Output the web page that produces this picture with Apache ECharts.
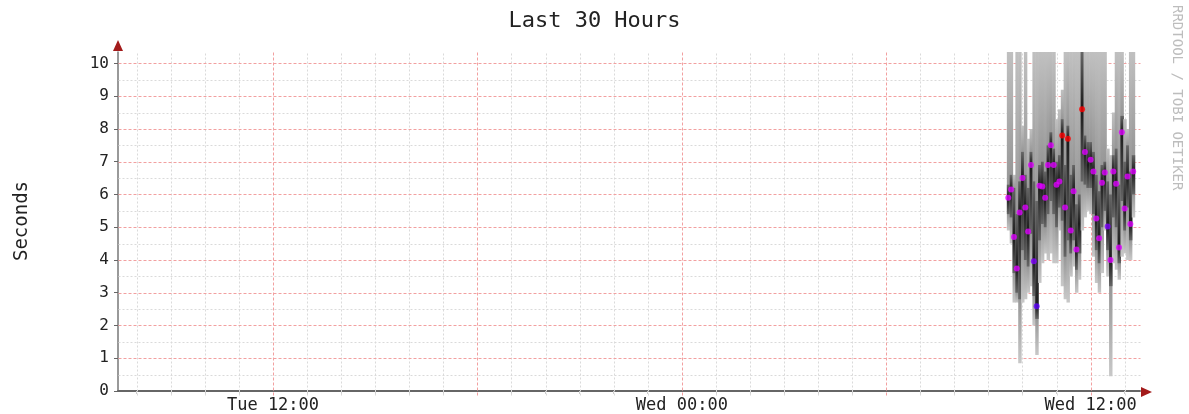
<!DOCTYPE html>
<html><head><meta charset="utf-8">
<script src="https://cdn.jsdelivr.net/npm/echarts@6/dist/echarts.min.js"></script>
<style>html,body{margin:0;padding:0;background:#fff}#c{width:1189px;height:414px}</style>
</head><body><div id="c"></div>
<script>
// ---- text ----
const titleText = 'Last 30 Hours';
const yAxisName = 'Seconds';
const sideText = 'RRDTOOL / TOBI OETIKER';
// ---- axes (x in hours counted from Tue 00:00) ----
const xMin = 7.45, xMax = 37.45;
const yMin = 0, yMax = 10.35;
const xTickHours = [12, 24, 36];
const xTickLabels = ['Tue 12:00', 'Wed 00:00', 'Wed 12:00'];
const yTicks = [0, 1, 2, 3, 4, 5, 6, 7, 8, 9, 10];
const vMinorGrid = [8,9,10,11,13,14,15,16,17,19,20,21,22,23,25,26,27,28,29,31,32,33,34,35,37];
const vMajorGrid = [12, 18, 24, 30, 36];
const hMinorGrid = [0.5,1.5,2.5,3.5,4.5,5.5,6.5,7.5,8.5,9.5];
const hMajorGrid = [1,2,3,4,5,6,7,8,9,10];
// ---- data: Wed, 5-minute steps ----
const times = ['09:35','09:40','09:45','09:50','09:55','10:00','10:05','10:10','10:15','10:20','10:25','10:30','10:35','10:40','10:45','10:50','10:55','11:00','11:05','11:10','11:15','11:20','11:25','11:30','11:35','11:40','11:45','11:50','11:55','12:00','12:05','12:10','12:15','12:20','12:25','12:30','12:35','12:40','12:45','12:50','12:55','13:00','13:05','13:10','13:15'];
const minRtt = [4.9,4.5,2.7,2.7,0.85,2.7,2.8,3.0,3.2,2.0,1.1,3.3,3.9,4.2,4.0,4.2,3.9,3.9,4.9,3.2,2.8,2.7,3.5,3.8,3.0,3.4,4.9,5.3,5.5,5.4,4.1,3.3,3.0,3.6,4.9,3.5,0.45,3.9,3.7,3.4,4.1,4.2,4.0,4.0,5.3];
const lowQ   = [5.4,5.3,3.6,3.0,2.8,4.3,4.0,3.8,4.8,2.9,2.2,4.6,5.1,5.0,5.4,5.8,5.4,5.0,5.6,5.2,4.1,4.6,4.2,4.6,3.7,4.2,6.4,6.3,6.2,6.2,5.4,4.3,3.9,5.0,5.5,4.3,3.2,5.3,5.0,3.9,5.8,4.9,5.6,4.6,6.0];
const median = [5.9,6.15,4.7,3.74,5.45,6.5,5.6,4.87,6.9,3.96,2.59,6.27,6.24,5.9,6.9,7.5,6.9,6.3,6.4,7.8,5.6,7.7,4.9,6.1,4.32,null,8.6,7.3,null,7.06,6.7,5.27,4.66,6.36,6.67,5.02,4.0,6.7,6.33,4.38,7.9,5.57,6.55,5.1,6.7];
const highQ  = [6.3,6.6,6.2,5.4,6.4,7.3,6.6,6.2,7.3,6.4,5.8,6.9,7.0,6.7,7.5,7.9,7.4,7.0,7.2,8.3,6.9,8.1,6.6,6.9,5.7,6.0,10.35,7.8,7.6,7.6,7.3,6.6,6.1,6.9,7.0,6.4,6.0,7.2,7.4,6.3,8.4,7.0,7.5,6.7,7.2];
const maxRtt = [10.35,10.35,6.6,10.35,10.35,8.1,10.35,7.7,8.0,10.35,10.35,10.35,10.35,10.35,10.35,10.35,10.35,8.3,8.6,9.2,10.35,10.35,10.35,10.35,10.35,10.35,10.35,10.35,10.35,10.35,10.35,10.35,10.35,10.35,10.35,7.4,7.2,8.5,10.35,10.35,10.35,8.3,8.0,10.35,10.35];
const lossCount = [7,7,7,7,7,7,7,7,7,5,3,7,7,7,7,7,7,7,7,11,7,11,7,7,7,7,11,7,7,7,7,7,7,7,7,5,7,7,7,7,7,7,7,7,7];
const lossThresholds = [0, 1, 2, 3, 4, 6, 10];
const lossColors = ['#26ff00', '#00b8ff', '#0059ff', '#5e00ff', '#7e00ff', '#dd00ff', '#ff0000'];

const STEP = 5 / 60;
function toHour(s) { const p = s.split(':'); return 24 + (+p[0]) + (+p[1]) / 60; }
function lossColor(n) { let c = lossColors[0]; for (let i = 0; i < lossThresholds.length; i++) if (n >= lossThresholds[i]) c = lossColors[i]; return c; }

const smokeData = times.map((t, i) => [toHour(t), minRtt[i], lowQ[i], median[i] == null ? '-' : median[i], highQ[i], maxRtt[i], lossCount[i]]);
const medianData = [];
times.forEach((t, i) => { if (median[i] != null) medianData.push({ value: [toHour(t), median[i]], itemStyle: { color: lossColor(lossCount[i]) } }); });

const minorGridData = [];
vMinorGrid.forEach(v => minorGridData.push([v, 0]));
hMinorGrid.forEach(v => minorGridData.push([v, 2]));
const majorGridData = [];
hMajorGrid.forEach(v => majorGridData.push([v, 3]));
vMajorGrid.forEach(v => majorGridData.push([v, 1]));

function clamp(v) { return Math.max(0, Math.min(1, v)); }
function grad(stops) {
  return { type: 'linear', x: 0, y: 0, x2: 0, y2: 1, colorStops: stops.map(s => ({ offset: clamp(s[0]), color: s[1] })) };
}

function makeGridRenderer(color, dash) {
  return function (params, api) {
    const v = api.value(0), kind = api.value(1);
    let p1, p2;
    if (kind < 2) { p1 = api.coord([v, yMin]); p2 = api.coord([v, yMax]); p1[1] += 4; }
    else { p1 = api.coord([xMin, v]); p2 = api.coord([xMax, v]); }
    return {
      type: 'line', shape: { x1: Math.round(p1[0]) + 0.5, y1: Math.round(p1[1]) + 0.5, x2: Math.round(p2[0]) + 0.5, y2: Math.round(p2[1]) + 0.5 },
      style: { stroke: color, lineWidth: 1, lineDash: dash }
    };
  };
}

function renderSmoke(params, api) {
  const t = api.value(0);
  const vLo = api.value(1), vQ1 = api.value(2), vMed = api.value(3), vQ3 = api.value(4), vHi = api.value(5);
  const w = api.size([STEP, 0])[0];
  const cx = api.coord([t, 0])[0];
  const x0 = cx - w / 2;
  const yLo = api.coord([t, vLo])[1], yHi = api.coord([t, vHi])[1];
  const yQ1 = api.coord([t, vQ1])[1], yQ3 = api.coord([t, vQ3])[1];
  const span = Math.max(1, yLo - yHi);
  const o3 = (yQ3 - yHi) / span, o1 = (yQ1 - yHi) / span;
  const children = [{
    type: 'rect', shape: { x: x0, y: yHi, width: w + 0.6, height: span },
    style: { fill: grad([[0, '#c0c0c0'], [o3, '#979797'], [o1, '#979797'], [1, '#c8c8c8']]) }
  }];
  const hasMed = !isNaN(vMed);
  const yMed = hasMed ? api.coord([t, vMed])[1] : (yQ1 + yQ3) / 2;
  const inner = Math.max(1, yQ1 - yQ3);
  const om = (yMed - yQ3) / inner;
  children.push({
    type: 'rect', shape: { x: x0, y: yQ3, width: w + 0.6, height: inner },
    style: { fill: grad([[0, '#666666'], [om, '#1a1a1a'], [1, '#666666']]) }
  });
  return { type: 'group', children };
}

const chart = echarts.init(document.getElementById('c'), null, { renderer: 'canvas' });
chart.setOption({
  animation: false,
  backgroundColor: '#ffffff',
  title: {
    text: titleText, left: 'center', top: 5,
    textStyle: { fontFamily: 'DejaVu Sans Mono', fontSize: 22, fontWeight: 'normal', color: '#222' }
  },
  grid: { left: 118, right: 49, top: 52, bottom: 22 },
  xAxis: {
    type: 'value', min: xMin, max: xMax,
    axisLine: { show: true, lineStyle: { color: '#666', width: 2 } },
    axisTick: { show: true, customValues: vMinorGrid, length: 3, lineStyle: { color: '#ccc' } },
    axisLabel: {
      customValues: xTickHours, margin: 6,
      formatter: v => xTickLabels[xTickHours.indexOf(v)] || '',
      fontFamily: 'DejaVu Sans Mono', fontSize: 17, color: '#222'
    },
    splitLine: { show: false }
  },
  yAxis: {
    type: 'value', min: yMin, max: yMax,
    axisLine: { show: true, lineStyle: { color: '#777', width: 1.5 } },
    axisTick: { show: true, customValues: yTicks, length: 4, lineStyle: { color: '#666' } },
    axisLabel: {
      customValues: yTicks, margin: 9,
      fontFamily: 'DejaVu Sans Mono', fontSize: 16, color: '#222'
    },
    splitLine: { show: false }
  },
  graphic: [
    { type: 'polygon', shape: { points: [[1141, 387], [1141, 397], [1152, 392]] }, style: { fill: '#a31b1b' }, z: 100 },
    { type: 'polygon', shape: { points: [[113, 51], [123, 51], [118, 40]] }, style: { fill: '#a31b1b' }, z: 100 },
    { type: 'text', x: 22, y: 221, rotation: Math.PI / 2,
      style: { text: yAxisName, fill: '#222', font: '19px "DejaVu Sans Mono"', align: 'center', verticalAlign: 'middle' } },
    { type: 'text', x: 1177, y: 5, rotation: -Math.PI / 2,
      style: { text: sideText, fill: '#bdbdbd', font: '14px "DejaVu Sans Mono"', align: 'left', verticalAlign: 'middle' } }
  ],
  series: [
    { type: 'custom', name: 'minorGrid', renderItem: makeGridRenderer('#dadada', [2, 2]), data: minorGridData, z: 1, silent: true, clip: false,
      encode: { x: 0, y: 1 } },
    { type: 'custom', name: 'majorGrid', renderItem: makeGridRenderer('#f2a0a0', [3, 2]), data: majorGridData, z: 1, silent: true, clip: false,
      encode: { x: 0, y: 1 } },
    { type: 'custom', name: 'smoke', renderItem: renderSmoke, data: smokeData, z: 2, silent: true,
      encode: { x: 0, y: [1, 5] } },
    { type: 'scatter', name: 'median', data: medianData, symbol: 'circle', symbolSize: 6, z: 3, silent: true }
  ]
});
</script>
</body></html>
